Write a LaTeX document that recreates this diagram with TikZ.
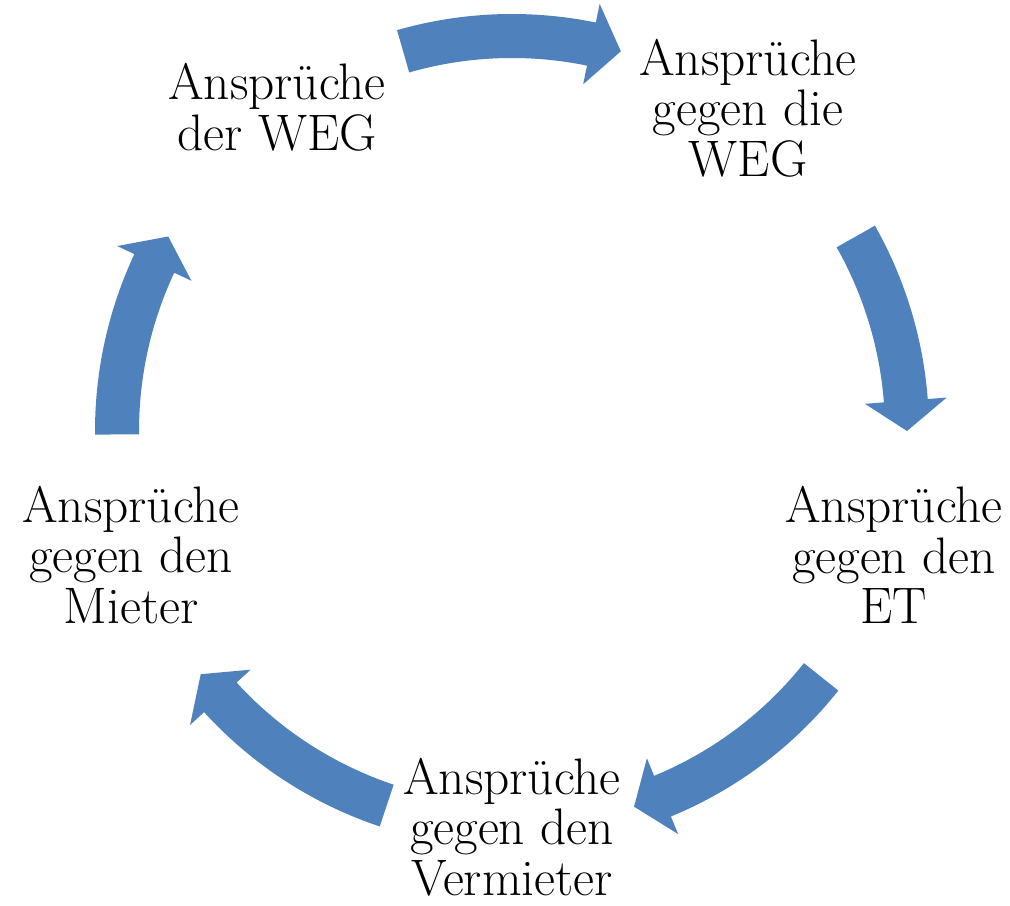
\documentclass[tikz,border=0pt]{standalone}
\definecolor{accblue}{RGB}{79,129,189}
\tikzset{
  cyclearrow/.style={fill=accblue, draw=none},
  lbl/.style={align=center, font=\fontsize{38.5}{38}\selectfont, inner sep=0pt}
}
% #1 tail angle, #2 tip angle (clockwise, #1 > #2)
\newcommand\blockarc[2]{%
  \fill[cyclearrow] (#1:417) arc[start angle=#1, end angle={#2+4.4}, radius=417]
    -- ({#2+4.4}:436) -- (#2:395) -- ({#2+4.4}:354) -- ({#2+4.4}:373)
    arc[start angle={#2+4.4}, end angle=#1, radius=373] -- cycle;}
\begin{document}
\begin{tikzpicture}[x=0.75pt,y=0.75pt]
\useasboundingbox (0,0) rectangle (1010,906);
\coordinate (c) at (512,475);
\begin{scope}[shift={(c)}]
  \blockarc{106}{74}
  \blockarc{29.5}{0}
  \blockarc{-38.5}{-72}
  \blockarc{251.5}{218}
  \blockarc{180.5}{150.5}
\end{scope}
\node[lbl] (weg)   at (277,799) {Ansprüche\\der WEG};
\node[lbl] (gweg)  at (748,798) {Ansprüche\\gegen die\\WEG};
\node[lbl] (et)    at (894,351) {Ansprüche\\gegen den\\ET};
\node[lbl] (verm)  at (512,79)  {Ansprüche\\gegen den\\Vermieter};
\node[lbl] (miet)  at (131,351) {Ansprüche\\gegen den\\Mieter};
\end{tikzpicture}
\end{document}
